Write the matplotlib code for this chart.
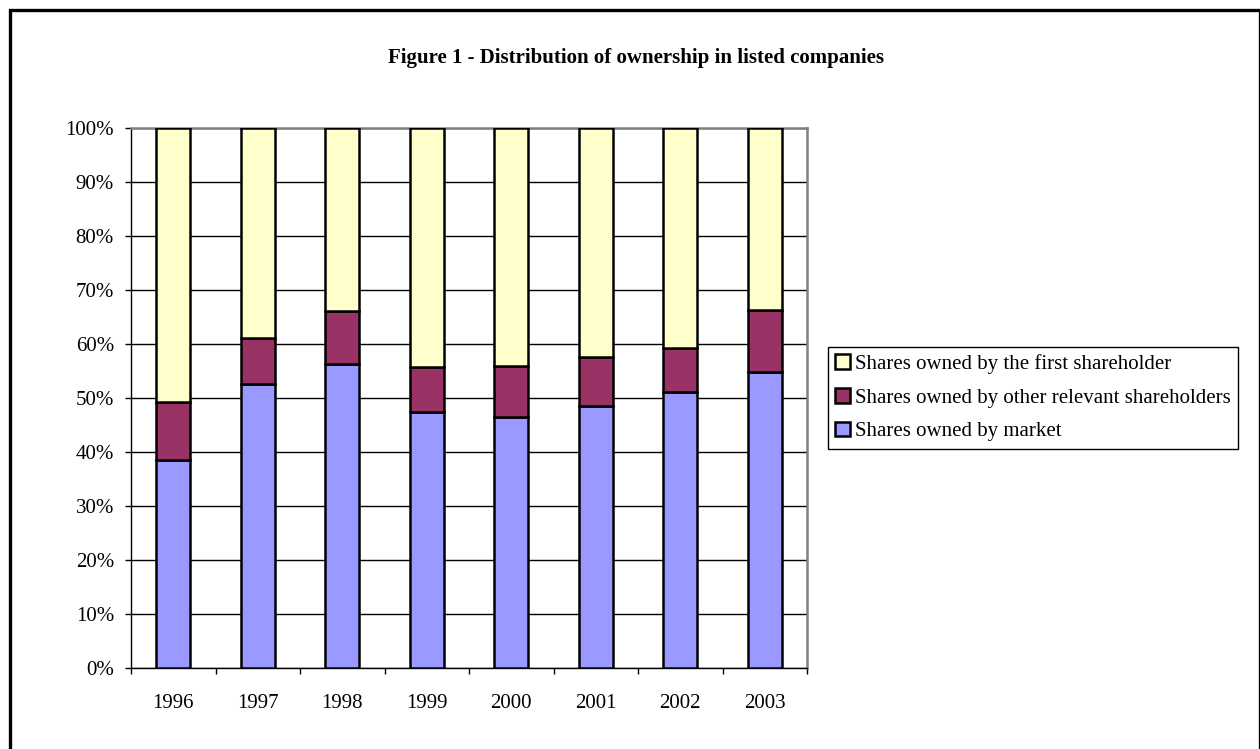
import numpy as np
import matplotlib
matplotlib.use("Agg")
import matplotlib.pyplot as plt
from matplotlib.patches import Rectangle
from matplotlib.ticker import PercentFormatter, MultipleLocator

# ownership shares (%) by year
years = ["1996", "1997", "1998", "1999", "2000", "2001", "2002", "2003"]
market = [38.5, 52.7, 56.4, 47.5, 46.5, 48.5, 51.1, 54.9]
other_relevant = [10.8, 8.5, 9.7, 8.2, 9.4, 9.2, 8.1, 11.4]
first_holder = [50.7, 38.8, 33.9, 44.3, 44.1, 42.3, 40.8, 33.7]

labels = ["Shares owned by market",
          "Shares owned by other relevant shareholders",
          "Shares owned by the first shareholder"]
colors = ["#9999FF", "#993366", "#FFFFCC"]

plt.rcParams['font.family'] = ['Liberation Serif', 'DejaVu Serif']

fig = plt.figure(figsize=(12.6, 7.49), dpi=100)
ax = fig.add_axes([0.104, 0.108, 0.5365, 0.721])

x = np.arange(len(years))
series = [market, other_relevant, first_holder]
bottom = np.zeros(len(years))
bars = []
for vals, lab, col in zip(series, labels, colors):
    b = ax.bar(x, vals, width=0.40, bottom=bottom, color=col, edgecolor="black",
               linewidth=1.8, label=lab, zorder=3)
    bars.append(b)
    bottom = bottom + np.array(vals)

ax.set_xlim(-0.5, len(years) - 0.5)
ax.set_ylim(0, 100)
ax.yaxis.set_major_locator(MultipleLocator(10))
ax.yaxis.set_major_formatter(PercentFormatter(decimals=0))
ax.grid(axis="y", color="black", linewidth=1.0, zorder=0)

# category labels centred, tick marks between categories
ax.set_xticks(x)
ax.set_xticklabels(years)
ax.tick_params(axis="x", length=0, pad=19, labelsize=15)
ax.set_xticks(np.arange(-0.5, len(years)), minor=True)
ax.tick_params(axis="x", which="minor", length=4.3, width=1.0, direction="out")
ax.tick_params(axis="y", length=4.3, width=1.0, labelsize=15, pad=8)

for side in ["left", "bottom"]:
    ax.spines[side].set_color("black")
    ax.spines[side].set_linewidth(1.0)
for side in ["top", "right"]:
    ax.spines[side].set_color("#808080")
    ax.spines[side].set_linewidth(1.8)

fig.text(0.5045, 0.922, "Figure 1 - Distribution of ownership in listed companies",
         ha="center", va="center", fontsize=15, fontweight="bold")

handles = bars[::-1]
leg = fig.legend(handles, labels[::-1], loc="upper left",
                 bbox_to_anchor=(0.657, 0.537), bbox_transform=fig.transFigure,
                 borderaxespad=0, fancybox=False, edgecolor="black", framealpha=1,
                 fontsize=15, handlelength=0.7, handleheight=0.7,
                 handletextpad=0.25, labelspacing=0.68, borderpad=0.35)
leg.get_frame().set_linewidth(1.0)

# outer frame; right and bottom edges run off the canvas
fig.patches.append(Rectangle((9.5 / 1260, -10 / 749), 1250 / 1260, 749.5 / 749,
                             transform=fig.transFigure, fill=False,
                             edgecolor="black", linewidth=2.4))

fig.savefig("out.png", dpi=100)
